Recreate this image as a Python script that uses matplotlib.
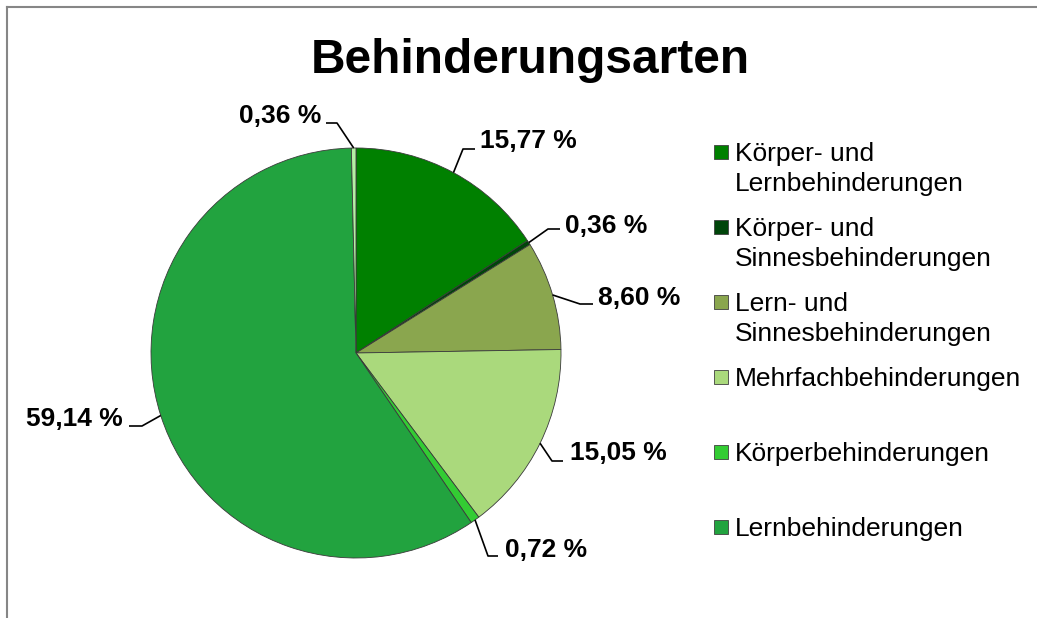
import matplotlib
matplotlib.use("Agg")
import matplotlib.pyplot as plt
import numpy as np
from matplotlib.patches import Rectangle
from matplotlib.lines import Line2D

# ---- data ----
categories = ["Körper- und Lernbehinderungen", "Körper- und Sinnesbehinderungen",
              "Lern- und Sinnesbehinderungen", "Mehrfachbehinderungen",
              "Körperbehinderungen", "Lernbehinderungen", ""]
values = [15.77, 0.36, 8.60, 15.05, 0.72, 59.14, 0.36]
pct_labels = ["15,77 %", "0,36 %", "8,60 %", "15,05 %", "0,72 %", "59,14 %", "0,36 %"]
legend_lines = [["Körper- und", "Lernbehinderungen"],
                ["Körper- und", "Sinnesbehinderungen"],
                ["Lern- und", "Sinnesbehinderungen"],
                ["Mehrfachbehinderungen"],
                ["Körperbehinderungen"],
                ["Lernbehinderungen"]]
colors = ["#008000", "#00450a", "#8aa64e", "#aad97c", "#33cc33", "#22a33f", "#b4f0a4"]

W, H = 1037, 618
def Y(y):
    return H - y

plt.rcParams['font.family'] = ['Liberation Sans', 'DejaVu Sans']
fig = plt.figure(figsize=(W / 100, H / 100), dpi=100)
ax = fig.add_axes([0, 0, 1, 1])

cx, cy, r = 356, 353, 205
wedges, _ = ax.pie(values, colors=colors, startangle=90, counterclock=False,
                   center=(cx, Y(cy)), radius=r,
                   wedgeprops=dict(edgecolor="#3a3a3a", linewidth=0.6))
ax.set_xlim(0, W)
ax.set_ylim(0, H)
ax.set_aspect("equal")
ax.axis("off")

# label layout: (elbow x, elbow y, text end x, text x, baseline y, ha)
layout = [
    (463, 149, 475, 480, 148, "left"),
    (548, 229, 560, 565, 233, "left"),
    (580, 304, 593, 598, 305, "left"),
    (552, 461, 563, 570, 460, "left"),
    (488, 556, 498, 505, 557, "left"),
    (142, 426, 129, 123, 426, "right"),
    (337, 123, 326, 321, 123, "right"),
]
for w, lab, (ex, ey, tx_end, tx, ty, ha) in zip(wedges, pct_labels, layout):
    ang = np.deg2rad((w.theta1 + w.theta2) / 2)
    axp = cx + r * np.cos(ang)
    ayp = Y(cy) + r * np.sin(ang)
    ax.plot([axp, ex, tx_end], [ayp, Y(ey), Y(ey)], color="black", lw=1.2,
            solid_capstyle="butt")
    ax.text(tx, Y(ty), lab, ha=ha, va="baseline", fontsize=19, fontweight="bold")

# title
ax.text(530, Y(73), "Behinderungsarten", ha="center", va="baseline",
        fontsize=34.5, fontweight="bold")

# legend
for i, lines in enumerate(legend_lines):
    base = 161 + 75 * i
    ax.add_patch(Rectangle((714, Y(base - 2)), 14, 14, facecolor=colors[i],
                           edgecolor="#404040", linewidth=0.6))
    for j, line in enumerate(lines):
        ax.text(735, Y(base + 30 * j), line, ha="left", va="baseline", fontsize=19)

# frame edges (top & left)
fig.add_artist(Line2D([7 / W, 1], [1 - 7 / H, 1 - 7 / H], color="#868686", lw=1.5,
                      transform=fig.transFigure))
fig.add_artist(Line2D([7 / W, 7 / W], [0, 1 - 7 / H], color="#868686", lw=1.5,
                      transform=fig.transFigure))

fig.savefig("out.png", dpi=100)
